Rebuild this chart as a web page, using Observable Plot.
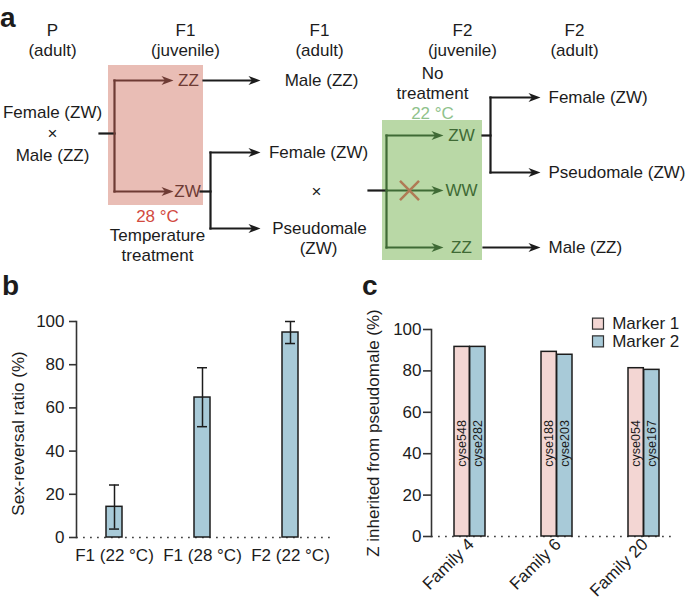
<!DOCTYPE html>
<html>
<head>
<meta charset="utf-8">
<script src="https://cdn.jsdelivr.net/npm/d3@7"></script>
<script src="https://cdn.jsdelivr.net/npm/@observablehq/plot@0.6"></script>
<style>
  html, body { margin: 0; padding: 0; background: #fff; }
  #fig { position: relative; width: 685px; height: 604px; overflow: hidden; font-family: "Liberation Sans", Arial, Helvetica, sans-serif; color: #1c1c1c; }
  .panel-letter { position: absolute; font-weight: bold; font-size: 28px; line-height: 28px; }
</style>
</head>
<body>
<div id="fig"></div>
<script>
// ---------- Data: panel b ----------
const sexRevGroups = ["F1 (22 °C)", "F1 (28 °C)", "F2 (22 °C)"];
const sexRevRatio  = [14.2, 64.8, 94.9];
const sexRevLow    = [3.9, 51.3, 89.8];
const sexRevHigh   = [24.3, 78.6, 100];
const yTicks       = [0, 20, 40, 60, 80, 100];
const yLabelB      = "Sex-reversal ratio (%)";

// ---------- Data: panel c ----------
const families     = ["Family 4", "Family 6", "Family 20"];
const markerNames  = ["Marker 1", "Marker 2"];
const marker1Pct   = [91.6, 89.2, 81.3];
const marker2Pct   = [91.6, 87.8, 80.5];
const marker1Loci  = ["cyse548", "cyse188", "cyse054"];
const marker2Loci  = ["cyse282", "cyse203", "cyse167"];
const yLabelC      = "Z inherited from pseudomale (%)";
const legendRowY   = [102.8, 94.3];   // legend rows, in the y units of panel c
const lociLabelY   = 45;

// ---------- Diagram (panel a) layout ----------
const diagramText = [
  {t: "P", x: 52, y: 30}, {t: "(adult)", x: 52, y: 50},
  {t: "F1", x: 185, y: 30}, {t: "(juvenile)", x: 185, y: 50},
  {t: "F1", x: 319, y: 30}, {t: "(adult)", x: 319, y: 50},
  {t: "F2", x: 462, y: 30}, {t: "(juvenile)", x: 462, y: 50},
  {t: "F2", x: 574, y: 30}, {t: "(adult)", x: 574, y: 50},
  {t: "Female (ZW)", x: 52, y: 112}, {t: "×", x: 52, y: 133}, {t: "Male (ZZ)", x: 52, y: 155},
  {t: "ZZ", x: 188, y: 80, c: "brown"}, {t: "ZW", x: 187, y: 191, c: "brown"},
  {t: "Male (ZZ)", x: 321, y: 80}, {t: "Female (ZW)", x: 318, y: 152},
  {t: "×", x: 316, y: 191}, {t: "Pseudomale", x: 319, y: 228}, {t: "(ZW)", x: 318, y: 248},
  {t: "28 °C", x: 157, y: 216, c: "red"}, {t: "Temperature", x: 157, y: 235.5}, {t: "treatment", x: 157, y: 255},
  {t: "No", x: 432, y: 73}, {t: "treatment", x: 432, y: 93}, {t: "22 °C", x: 432, y: 113, c: "lgreen"},
  {t: "ZW", x: 461, y: 135, c: "green"}, {t: "WW", x: 461, y: 190, c: "green"}, {t: "ZZ", x: 461, y: 247, c: "green"},
  {t: "Female (ZW)", x: 548, y: 97, a: "start"}, {t: "Pseudomale (ZW)", x: 548, y: 172, a: "start"},
  {t: "Male (ZZ)", x: 548, y: 247, a: "start"}
];
const diagramBoxes = [
  {x1: 108, x2: 203, y1: 65, y2: 205, c: "redBox"},
  {x1: 382, x2: 482, y1: 120, y2: 260, c: "greenBox"}
];
const diagramLines = [
  {x1: 99, y1: 133, x2: 114, y2: 133, c: "k"},
  {x1: 114, y1: 80, x2: 114, y2: 191, c: "brown"},
  {x1: 114, y1: 80, x2: 165, y2: 80, c: "brown"},
  {x1: 114, y1: 191, x2: 165, y2: 191, c: "brown"},
  {x1: 203, y1: 80, x2: 252, y2: 80, c: "k"},
  {x1: 200, y1: 191, x2: 210, y2: 191, c: "k"},
  {x1: 210, y1: 152, x2: 210, y2: 228, c: "k"},
  {x1: 210, y1: 152, x2: 252, y2: 152, c: "k"},
  {x1: 210, y1: 228, x2: 252, y2: 228, c: "k"},
  {x1: 368, y1: 190, x2: 386, y2: 190, c: "k"},
  {x1: 386, y1: 190, x2: 436, y2: 190, c: "green"},
  {x1: 386, y1: 135, x2: 386, y2: 247, c: "green"},
  {x1: 386, y1: 135, x2: 436, y2: 135, c: "green"},
  {x1: 386, y1: 247, x2: 436, y2: 247, c: "green"},
  {x1: 482, y1: 135, x2: 490, y2: 135, c: "k"},
  {x1: 490, y1: 97, x2: 490, y2: 172, c: "k"},
  {x1: 490, y1: 97, x2: 532, y2: 97, c: "k"},
  {x1: 490, y1: 172, x2: 532, y2: 172, c: "k"},
  {x1: 483, y1: 247, x2: 532, y2: 247, c: "k"}
];
const diagramHeads = [
  {x: 173, y: 80, c: "brown"}, {x: 173, y: 191, c: "brown"},
  {x: 260, y: 80, c: "k"}, {x: 260, y: 152, c: "k"}, {x: 260, y: 228, c: "k"},
  {x: 443, y: 135, c: "green"}, {x: 443, y: 190, c: "green"}, {x: 443, y: 247, c: "green"},
  {x: 540, y: 97, c: "k"}, {x: 540, y: 172, c: "k"}, {x: 540, y: 247, c: "k"}
];
const blockedCross = [{x: 409, y: 190}];

// ---------- Styles ----------
const FONT = '"Liberation Sans", Arial, Helvetica, sans-serif';
const INK = "#1c1c1c";
const COL = {
  k: INK, brown: "#6e3b34", red: "#d24a3f", green: "#3f6a35", lgreen: "#8fc28b",
  cross: "#b07a55", redBox: "#e9bdb5", greenBox: "#b9d8a6",
  pink: "#f3d6d3", blue: "#a8cad8"
};
const stealth = {
  draw(ctx) {
    ctx.moveTo(0, 0); ctx.lineTo(-12, -4.5); ctx.lineTo(-8.5, 0); ctx.lineTo(-12, 4.5); ctx.closePath();
  }
};

const fig = document.getElementById("fig");
function place(el, left, top) {
  el.style.position = "absolute"; el.style.left = left + "px"; el.style.top = top + "px";
  fig.appendChild(el);
}
function letter(s, left, top) {
  const d = document.createElement("div"); d.className = "panel-letter"; d.textContent = s;
  d.style.left = left + "px"; d.style.top = top + "px"; fig.appendChild(d);
}

// ---------- Panel a ----------
const plotA = Plot.plot({
  width: 685, height: 270,
  margin: 0,
  style: {fontFamily: FONT, fontSize: "17px", background: "transparent", color: INK, overflow: "visible"},
  x: {domain: [0, 685], range: [0, 685], axis: null},
  y: {domain: [0, 270], range: [0, 270], axis: null},
  color: {type: "identity"},
  marks: [
    Plot.rect(diagramBoxes, {x1: "x1", x2: "x2", y1: "y1", y2: "y2", fill: d => COL[d.c]}),
    Plot.link(diagramLines, {x1: "x1", y1: "y1", x2: "x2", y2: "y2", stroke: d => COL[d.c], strokeWidth: 2.2, strokeLinecap: "square"}),
    Plot.dot(diagramHeads, {x: "x", y: "y", symbol: stealth, fill: d => COL[d.c], stroke: "none", r: 4}),
    Plot.dot(blockedCross, {x: "x", y: "y", symbol: "times", r: 8.7, stroke: COL.cross, strokeWidth: 2.5}),
    Plot.text(diagramText, {filter: d => !d.a, x: "x", y: "y", text: "t", fill: d => COL[d.c || "k"], textAnchor: "middle", fontSize: 17}),
    Plot.text(diagramText, {filter: d => d.a === "start", x: "x", y: "y", text: "t", fill: d => COL[d.c || "k"], textAnchor: "start", fontSize: 17})
  ]
});
place(plotA, 0, 0);

// ---------- Panel b ----------
const dataB = sexRevGroups.map((g, i) => ({group: g, ratio: sexRevRatio[i], low: sexRevLow[i], high: sexRevHigh[i]}));
const plotB = Plot.plot({
  width: 340, height: 334,
  marginLeft: 76, marginRight: 5, marginTop: 51, marginBottom: 67,
  style: {fontFamily: FONT, fontSize: "17px", background: "transparent", color: INK, overflow: "visible"},
  x: {domain: sexRevGroups, range: [68.6, 334.9], paddingInner: 0.82, paddingOuter: 0.41, align: 0.5},
  y: {domain: [0, 100]},
  marks: [
    Plot.ruleY([0], {stroke: "#444", strokeWidth: 1.6, strokeDasharray: "1.8,5.2"}),
    Plot.barY(dataB, {x: "group", y: "ratio", fill: COL.blue, stroke: INK, strokeWidth: 1.5}),
    Plot.ruleX(dataB, {x: "group", y1: "low", y2: "high", stroke: INK, strokeWidth: 1.5}),
    Plot.tickY(dataB, {x: "group", y: "low", insetLeft: 3, insetRight: 3, stroke: INK, strokeWidth: 1.5}),
    Plot.tickY(dataB, {x: "group", y: "high", insetLeft: 3, insetRight: 3, stroke: INK, strokeWidth: 1.5}),
    Plot.frame({anchor: "left", stroke: "#333", strokeWidth: 1.6}),
    Plot.axisY({ticks: yTicks, tickSize: 7, tickPadding: 5, label: null, fontSize: 17, strokeWidth: 1.6, stroke: "#333"}),
    Plot.axisX({tickSize: 0, tickPadding: 11, label: null, fontSize: 17}),
    Plot.text([yLabelB], {frameAnchor: "left", text: d => d, rotate: -90, textAnchor: "middle", dx: -58, dy: 4, fontSize: 17})
  ]
});
place(plotB, 0, 270);

// ---------- Panel c ----------
const dataC1 = families.map((f, i) => ({family: f, marker: markerNames[0], value: marker1Pct[i], locus: marker1Loci[i]}));
const dataC2 = families.map((f, i) => ({family: f, marker: markerNames[1], value: marker2Pct[i], locus: marker2Loci[i]}));
const legendData = markerNames.map((m, i) => ({marker: m, y: legendRowY[i]}));
const xRangeC = [84.4, 348];
const padInnerC = 0.643;
const halfBand = ((xRangeC[1] - xRangeC[0]) / 3) * (1 - padInnerC) / 2;
const plotC = Plot.plot({
  width: 345, height: 334,
  marginLeft: 91, marginRight: 12, marginTop: 59, marginBottom: 68,
  style: {fontFamily: FONT, fontSize: "17px", background: "transparent", color: INK, overflow: "visible"},
  x: {domain: families, range: xRangeC, paddingInner: padInnerC, paddingOuter: padInnerC / 2, align: 0.5},
  y: {domain: [0, 100]},
  color: {domain: markerNames, range: [COL.pink, COL.blue]},
  marks: [
    Plot.ruleY([0], {stroke: "#444", strokeWidth: 1.6, strokeDasharray: "1.8,5.2"}),
    Plot.barY(dataC1, {x: "family", y: "value", fill: "marker", stroke: INK, strokeWidth: 1.5, insetRight: halfBand}),
    Plot.barY(dataC2, {x: "family", y: "value", fill: "marker", stroke: INK, strokeWidth: 1.5, insetLeft: halfBand}),
    Plot.text(dataC1, {x: "family", y: () => lociLabelY, text: "locus", rotate: -90, dx: -halfBand / 2, fontSize: 12.5}),
    Plot.text(dataC2, {x: "family", y: () => lociLabelY, text: "locus", rotate: -90, dx: halfBand / 2, fontSize: 12.5}),
    Plot.frame({anchor: "left", stroke: "#333", strokeWidth: 1.6}),
    Plot.axisY({ticks: yTicks, tickSize: 8, tickPadding: 2, label: null, fontSize: 17, strokeWidth: 1.6, stroke: "#333"}),
    Plot.axisX({tickSize: 0, tickPadding: 5, tickRotate: -45, label: null, fontSize: 17, dx: 1}),
    Plot.text([yLabelC], {frameAnchor: "left", text: d => d, rotate: -90, textAnchor: "middle", dx: -58, fontSize: 17}),
    Plot.dot(legendData, {frameAnchor: "right", y: "y", fill: "marker", symbol: "square", r: 6.2, stroke: "#333", strokeWidth: 1.2, dx: -75.5}),
    Plot.text(legendData, {frameAnchor: "right", y: "y", text: "marker", textAnchor: "start", dx: -61.3, fontSize: 17})
  ]
});
place(plotC, 340, 270);

letter("a", 0, 4);
letter("b", 2, 272);
letter("c", 362, 272);
</script>
</body>
</html>
